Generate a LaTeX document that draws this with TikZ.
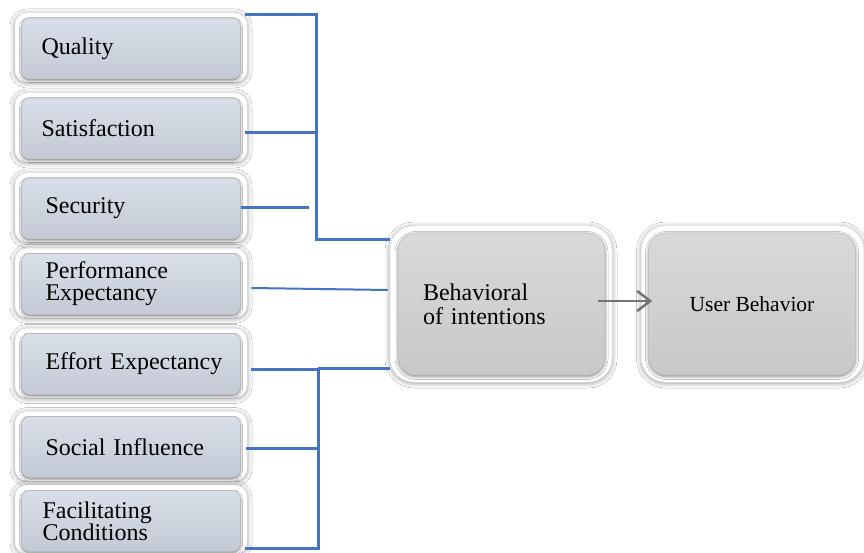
\documentclass[tikz,border=0pt]{standalone}
\usepackage{fontspec}
\setmainfont{Liberation Serif}
\usetikzlibrary{arrows.meta,shadows.blur}
\definecolor{linkblue}{HTML}{4472C4}
\definecolor{boxtop}{HTML}{D9DFE8}
\definecolor{boxbot}{HTML}{C3CAD5}
\definecolor{bigtop}{HTML}{D9D9D9}
\definecolor{bigbot}{HTML}{C8C8C8}
\newcommand\ind[1]{\hspace*{#1pt}}
\tikzset{
  frame/.style={fill=white, draw=black!6, line width=0.5pt, rounded corners=12pt,
    blur shadow={shadow xshift=0pt, shadow yshift=-1pt, shadow blur radius=5pt, shadow opacity=45}},
  bigframe/.style={frame, rounded corners=24pt, minimum width=222pt, minimum height=156pt, inner sep=0pt},
  smallframe/.style={frame, minimum width=232pt, minimum height=69pt, inner sep=0pt},
  factor/.style={top color=boxtop, bottom color=boxbot, draw=black!28, line width=0.6pt,
    rounded corners=8pt, minimum width=219pt, minimum height=61pt, inner sep=0pt,
    text width=197pt, align=left, font=\fontsize{24}{22}\selectfont,
    blur shadow={shadow xshift=0pt, shadow yshift=-1.5pt, shadow blur radius=2pt, shadow opacity=50}},
  bigbox/.style={top color=bigtop, bottom color=bigbot, draw=black!25, line width=0.6pt,
    rounded corners=18pt, minimum width=207pt, minimum height=142pt, inner sep=0pt,
    blur shadow={shadow xshift=0pt, shadow yshift=-1.5pt, shadow blur radius=3pt, shadow opacity=50}},
  link/.style={draw=linkblue, line width=3pt},
  flow/.style={draw=black!55, line width=2.5pt, -{Straight Barb[length=13pt,width=20pt,line width=2.5pt]}}
}
\begin{document}
\begin{tikzpicture}[x=1pt,y=-1pt]
\useasboundingbox[fill=white] (0,0) rectangle (864,553);
% left factor boxes (text box starts at x=32.5)
\node[smallframe] (qo) at (131,47.5) {};
\node[factor] (q) at (131,48.5) {\ind{9}Quality};
\node[smallframe] (so) at (131,127.5) {};
\node[factor] (s) at (131,128.5) {\ind{9}Satisfaction};
\node[smallframe] (seco) at (131,207.5) {};
\node[factor] (sec) at (131,208.5) {\ind{13}Security};
\node[smallframe] (po) at (131,283) {};
\node[factor] (p) at (131,284) {\ind{13}Performance\\\ind{13}Expectancy};
\node[smallframe] (eo) at (131,363) {};
\node[factor] (e) at (131,364) {\ind{13}Effort Expectancy};
\node[smallframe] (sio) at (131,446) {};
\node[factor] (si) at (131,447) {\ind{13}Social Influence};
\node[smallframe] (fo) at (131,519.5) {};
\node[factor] (f) at (131,521) {\ind{10}Facilitating\\\ind{10}Conditions};
% big boxes
\node[bigframe] (bo) at (501,304) {};
\node[bigbox, text width=157pt, align=left, font=\fontsize{24}{24}\selectfont] (b) at (501.5,304) {Behavioral\\of intentions};
\node[bigframe] (uo) at (752.5,304) {};
\node[bigbox, align=center, font=\fontsize{21.5}{24}\selectfont] (u) at (752,304) {User Behavior};
% arrow
\draw[flow] ([xshift=-7pt,yshift=3pt]b.east) -- ([xshift=4pt,yshift=3pt]u.west);
% blue connectors, top bracket
\coordinate (ja) at (316,240);
\coordinate (q1) at ([xshift=4pt,yshift=3pt]q.north east);
\coordinate (s1) at ([xshift=4pt,yshift=-4.5pt]s.east);
\coordinate (sec1) at ([yshift=0.5pt]sec.east);
\draw[link] (q1) -| (ja) -- (ja -| bo.west);
\draw[link] (s1) -- (s1 -| ja);
\draw[link] (sec1) -- ++(68,0);
% performance
\draw[draw=linkblue, line width=2pt] ([xshift=10.5pt,yshift=-4pt]p.east) -- ([xshift=-2pt,yshift=14pt]bo.west);
% bottom bracket
\coordinate (jb) at (318,368);
\coordinate (e1) at ([xshift=10.5pt,yshift=-5pt]e.east);
\coordinate (si1) at ([xshift=5.5pt,yshift=-1pt]si.east);
\coordinate (f1) at ([xshift=4pt,yshift=-27pt]f.east);
\draw[link] (jb) -- (jb -| bo.west);
\draw[link] (e1) -- (e1 -| jb);
\draw[link] (si1) -- (si1 -| jb);
\draw[link] (jb) |- (f1);
\end{tikzpicture}
\end{document}
